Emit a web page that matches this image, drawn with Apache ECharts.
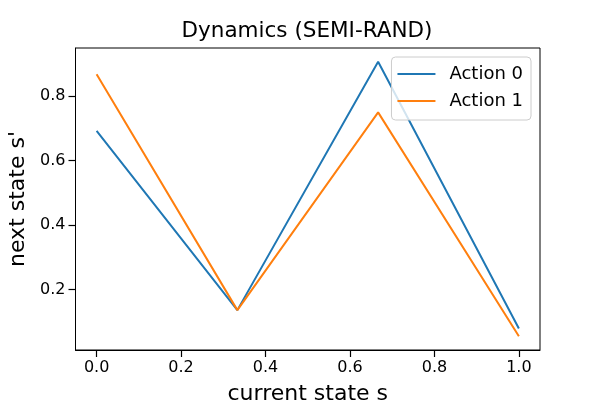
<!DOCTYPE html>
<html>
<head>
<meta charset="utf-8">
<script src="https://cdn.jsdelivr.net/npm/echarts@6/dist/echarts.min.js"></script>
<style>
  html, body { margin: 0; padding: 0; background: #fff; }
  #chart { width: 600px; height: 400px; }
</style>
</head>
<body>
<div id="chart"></div>
<script>
// current state s (x positions of the points)
var states = [0, 1 / 3, 2 / 3, 1];
// next state s' for each action
var action0 = [0.692, 0.136, 0.906, 0.079];
var action1 = [0.867, 0.136, 0.749, 0.055];
var seriesNames = ['Action 0', 'Action 1'];
var xTicks = [0, 0.2, 0.4, 0.6, 0.8, 1.0];
var yTicks = [0.2, 0.4, 0.6, 0.8];

function pairs(xs, ys) {
  return xs.map(function (x, i) { return [x, ys[i]]; });
}

var font = 'DejaVu Sans';
var chart = echarts.init(document.getElementById('chart'));

chart.setOption({
  animation: false,
  title: {
    text: 'Dynamics (SEMI-RAND)',
    left: 302,
    top: 15,
    textAlign: 'center',
    textStyle: { fontFamily: font, fontSize: 21.5, fontWeight: 'normal', color: '#000' }
  },
  legend: {
    orient: 'vertical',
    right: 69,
    top: 57,
    z: 10,
    data: seriesNames,
    icon: 'path://M0,0H38V2H0Z',
    itemWidth: 38,
    itemHeight: 14,
    itemGap: 9,
    padding: [8, 8, 10, 6],
    backgroundColor: 'rgba(255,255,255,0.8)',
    borderColor: '#cccccc',
    borderWidth: 1,
    borderRadius: 4,
    textStyle: { fontFamily: font, fontSize: 18, color: '#000', padding: [0, 0, 0, 9] }
  },
  grid: {
    left: 75.5,
    right: 60,
    top: 48,
    bottom: 50,
    outerBoundsMode: 'none',
    containLabel: false,
    show: true,
    borderColor: '#000',
    borderWidth: 1,
    backgroundColor: 'transparent'
  },
  xAxis: {
    type: 'value',
    min: -0.05,
    max: 1.05,
    name: 'current state s',
    nameLocation: 'middle',
    nameGap: 33,
    nameTextStyle: { fontFamily: font, fontSize: 22, color: '#000' },
    axisLine: { show: true, onZero: false, lineStyle: { color: '#000', width: 1 } },
    splitLine: { show: false },
    axisTick: { show: true, inside: false, length: 7, customValues: xTicks, lineStyle: { color: '#000', width: 1.2 } },
    axisLabel: {
      customValues: xTicks,
      margin: 10,
      fontFamily: font, fontSize: 16, color: '#000',
      formatter: function (v) { return v.toFixed(1); }
    }
  },
  yAxis: {
    type: 'value',
    min: 0.0124,
    max: 0.9486,
    name: "next state s'",
    nameLocation: 'middle',
    nameGap: 38,
    nameTextStyle: { fontFamily: font, fontSize: 22, color: '#000' },
    axisLine: { show: true, onZero: false, lineStyle: { color: '#000', width: 1 } },
    splitLine: { show: false },
    axisTick: { show: true, inside: false, length: 7, customValues: yTicks, lineStyle: { color: '#000', width: 1.2 } },
    axisLabel: {
      customValues: yTicks,
      margin: 10,
      fontFamily: font, fontSize: 16, color: '#000',
      formatter: function (v) { return v.toFixed(1); }
    }
  },
  series: [{
    name: seriesNames[0],
    type: 'line',
    data: pairs(states, action0),
    symbol: 'none',
    color: '#1f77b4',
    lineStyle: { width: 2, color: '#1f77b4' }
  }, {
    name: seriesNames[1],
    type: 'line',
    data: pairs(states, action1),
    symbol: 'none',
    color: '#ff7f0e',
    lineStyle: { width: 2, color: '#ff7f0e' }
  }]
});
</script>
</body>
</html>
